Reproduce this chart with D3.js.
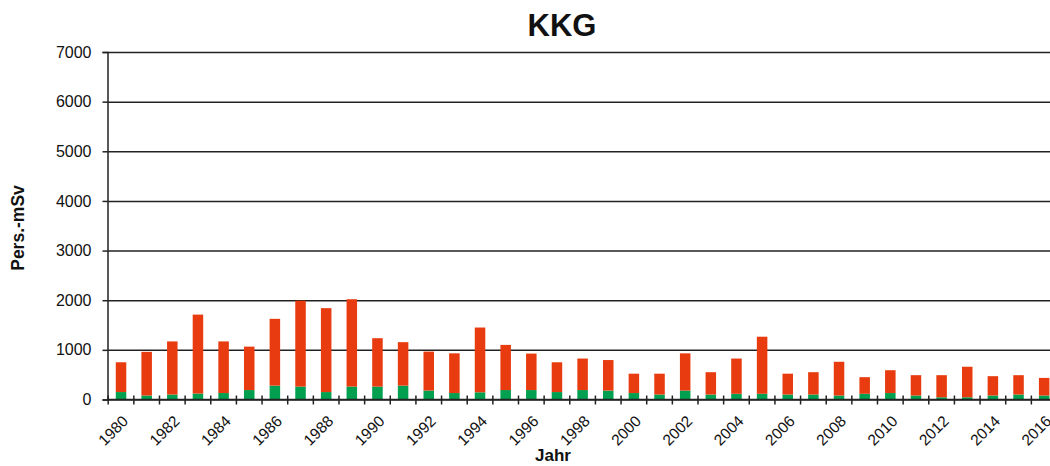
<!DOCTYPE html>
<html><head><meta charset="utf-8">
<script src="https://cdn.jsdelivr.net/npm/d3@7"></script>
<style>body{margin:0;background:#fff}svg{display:block}text{font-family:"Liberation Sans",Arial,sans-serif}</style>
</head><body>
<svg id="c" width="1050" height="466"></svg>
<script>
const years = d3.range(1980, 2017);
const greenVals = [150,80,100,120,130,190,280,260,150,260,260,280,180,130,145,190,190,150,190,180,130,100,180,100,115,115,100,100,80,115,130,80,45,45,80,100,80];
const redVals = [600,880,1070,1590,1040,875,1345,1730,1690,1760,975,875,785,800,1305,910,735,600,635,615,390,420,750,450,710,1150,420,450,680,335,460,410,445,615,390,390,355];
const yTicks = [0,1000,2000,3000,4000,5000,6000,7000];
const xTickLabels = years.filter(y => y % 2 === 0);
const title = "KKG", yTitle = "Pers.-mSv", xTitle = "Jahr";
const colors = {green:"#00a050", red:"#e83c10"};

const svg = d3.select("#c");
const L = 107.5, R = 1050, T = 52, B = 399.5;
const bandL = 108.2, bandR = 1057;
const x = d3.scaleBand().domain(years).range([bandL, bandR]).paddingInner(0.59).paddingOuter(0.295);
const y = d3.scaleLinear().domain([0, 7000]).range([B, T]);

// gridlines
svg.append("g").attr("transform", `translate(${L},0)`)
  .call(d3.axisLeft(y).tickValues(yTicks).tickSize(-(R - L)).tickFormat(""))
  .call(g => g.select(".domain").remove())
  .call(g => g.selectAll("line").attr("stroke", "#222").attr("stroke-width", 1.5));
// y axis with tick marks
svg.append("g").attr("transform", `translate(${L},0)`)
  .call(d3.axisLeft(y).tickValues(yTicks).tickSize(5).tickPadding(11).tickFormat(d3.format("d")))
  .call(g => g.select(".domain").attr("stroke", "#222").attr("stroke-width", 1.5))
  .call(g => g.selectAll("line").attr("stroke", "#222").attr("stroke-width", 1.5))
  .call(g => g.selectAll("text").attr("font-size", 16).attr("fill", "#111").attr("font-family", "Liberation Sans, Arial"));

const data = years.map((yr, i) => ({year: yr, green: greenVals[i], red: redVals[i]}));
const series = d3.stack().keys(["green", "red"])(data);
svg.append("g").selectAll("g").data(series).join("g")
  .attr("fill", d => colors[d.key])
  .selectAll("rect").data(d => d).join("rect")
  .attr("x", d => x(d.data.year))
  .attr("width", x.bandwidth())
  .attr("y", d => y(d[1]))
  .attr("height", d => y(d[0]) - y(d[1]));

// x axis line with crossing ticks at band boundaries
const xb = d3.scaleLinear().domain([0, years.length]).range([bandL, bandR]);
svg.append("line").attr("x1", L).attr("x2", R).attr("y1", B).attr("y2", B).attr("stroke", "#222").attr("stroke-width", 1.5);
svg.append("g").selectAll("line").data(d3.range(0, years.length + 1).filter(i => xb(i) <= R)).join("line")
  .attr("x1", d => xb(d)).attr("x2", d => xb(d)).attr("y1", B - 4).attr("y2", B + 5)
  .attr("stroke", "#222").attr("stroke-width", 1.5);

svg.append("g").selectAll("text").data(xTickLabels).join("text")
  .attr("transform", d => `translate(${x(d) + x.bandwidth() / 2 + 0.5},${B + 15}) rotate(-45)`)
  .attr("text-anchor", "end").attr("dy", "0.7em").attr("font-size", 15.5).attr("fill", "#111")
  .text(d => d);

svg.append("text").attr("x", 553).attr("y", 461).attr("text-anchor", "middle")
  .attr("font-size", 17).attr("font-weight", "bold").attr("fill", "#111").text(xTitle);
svg.append("text").attr("x", 562).attr("y", 36).attr("text-anchor", "middle")
  .attr("font-size", 31).attr("font-weight", "bold").attr("fill", "#111").text(title);
svg.append("text").attr("transform", "translate(24,228) rotate(-90)").attr("text-anchor", "middle")
  .attr("font-size", 17.5).attr("font-weight", "bold").attr("fill", "#111").text(yTitle);
</script>
</body></html>
